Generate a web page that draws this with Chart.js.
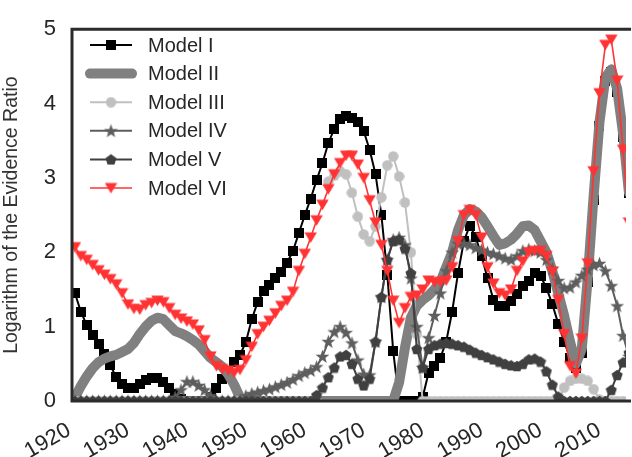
<!DOCTYPE html>
<html>
<head>
<meta charset="utf-8">
<script src="https://cdn.jsdelivr.net/npm/chart.js@4.4.0/dist/chart.umd.min.js"></script>
<style>
  html, body { margin: 0; padding: 0; background: #fff; }
  #myChart { display: block; }
</style>
</head>
<body>
<canvas id="myChart" width="632" height="457"></canvas>
<script>
// one value per year, 1920..2014 (points sit mid-year)
const firstYear = 1920;
const lastYear = 2014;
const tickYears = [1920, 1930, 1940, 1950, 1960, 1970, 1980, 1990, 2000, 2010];
const seriesNames = ["Model I", "Model II", "Model III", "Model IV", "Model V", "Model VI"];

const modelI = [
  1.45, 1.2, 1.02, 0.89, 0.76, 0.63, 0.48, 0.32, 0.23, 0.17,
  0.18, 0.23, 0.28, 0.31, 0.31, 0.26, 0.17, 0.09, 0.03, 0,
  0, 0, 0, 0.05, 0.18, 0.29, 0.41, 0.52, 0.62, 0.79,
  1.1, 1.33, 1.48, 1.56, 1.65, 1.73, 1.86, 2.02, 2.26, 2.5,
  2.72, 2.97, 3.2, 3.47, 3.66, 3.79, 3.83, 3.81, 3.75, 3.63,
  3.38, 3.05, 2.5, 1.7, 0.67, 0, 0, 0, 0, 0.05,
  0.38, 0.47, 0.58, 0.8, 1.2, 1.72, 2.15, 2.36, 2.2, 1.95,
  1.65, 1.36, 1.28, 1.28, 1.35, 1.44, 1.54, 1.62, 1.72, 1.68,
  1.52, 1.3, 1.04, 0.8, 0.58, 0.45, 0.65, 1.6, 2.7, 3.7,
  4.3, 4.42, 4.15, 3.55, 2.8
];
const modelII = [
  0.05, 0.2, 0.33, 0.44, 0.52, 0.57, 0.6, 0.62, 0.66, 0.7,
  0.78, 0.9, 1.0, 1.08, 1.12, 1.1, 1.02, 0.94, 0.91, 0.87,
  0.82, 0.76, 0.67, 0.58, 0.52, 0.46, 0.36, 0.22, 0.05, 0,
  0, 0, 0, 0, 0, 0, 0, 0, 0, 0,
  0, 0, 0, 0, 0, 0, 0, 0, 0, 0,
  0, 0, 0, 0, 0, 0.25, 0.72, 1.12, 1.28, 1.36,
  1.42, 1.5, 1.6, 1.8, 2.0, 2.3, 2.5, 2.58, 2.55, 2.47,
  2.35, 2.22, 2.1, 2.12, 2.17, 2.25, 2.35, 2.36, 2.3, 2.15,
  2.0, 1.75, 1.45, 1.15, 0.8, 0.5, 0.7, 1.65, 2.75, 3.75,
  4.35, 4.46, 4.2, 3.6, 2.8
];
const modelIII = [
  0, 0, 0, 0, 0, 0, 0, 0, 0, 0,
  0, 0, 0, 0, 0, 0, 0, 0, 0, 0,
  0, 0, 0, 0, 0, 0, 0, 0, 0, 0,
  0, 0, 0, 0, 0, 0, 0, 0, 0, 0,
  0, 0, null, 2.95, 3.03, 3.09, 3.05, 2.8, 2.48, 2.24,
  2.15, 2.35, 2.74, 3.17, 3.29, 3.02, 2.67, 2.0, 0.9, 0,
  0, 0, 0, 0, 0, 0, 0, 0, 0, 0,
  0, 0, 0, 0, 0, 0, 0, 0, 0, 0,
  0, 0, 0, 0.18, 0.27, 0.3, 0.3, 0.27, 0.16, 0.02,
  0, 0, 0, 0, 0
];
const modelIV = [
  0, 0, 0, 0, 0, 0, 0, 0, 0, 0,
  0, 0, 0, 0, 0, 0, 0, 0.05, 0.15, 0.26,
  0.26, 0.21, 0.15, 0.07, 0, 0, 0, 0, 0, 0.07,
  0.1, 0.12, 0.14, 0.16, 0.19, 0.22, 0.25, 0.29, 0.34, 0.38,
  0.41, 0.46, 0.6, 0.8, 0.93, 1.0, 0.92, 0.78, 0.55, 0.36,
  0.35, 0.8, 1.4, 1.9, 2.17, 2.2, 2.1, 1.65, 1.0, 0.45,
  0.85, 1.15, 1.45, 1.75, 2.0, 2.12, 2.12, 2.1, 2.06, 2.03,
  2.0, 1.98, 1.95, 1.92, 1.9, 1.95, 2.02, 2.04, 2.02, 2.0,
  1.9, 1.78, 1.62, 1.52, 1.53, 1.6, 1.69, 1.77, 1.83, 1.85,
  1.75, 1.55, 1.28, 0.88, 0.6
];
const modelV = [
  0, 0, 0, 0, 0, 0, 0, 0, 0, 0,
  0, 0, 0, 0, 0, 0, 0, 0, 0, 0,
  0, 0, 0, 0, 0, 0, 0, 0, 0, 0,
  0, 0, 0, 0, 0, 0, 0, 0, 0, 0,
  0, 0.08, 0.18, 0.32, 0.45, 0.6, 0.62, 0.5, 0.3, 0.21,
  0.3, 0.8, 1.4, 1.9, 2.15, 2.17, 2.05, 1.72, 0.7, 0.45,
  0.7, 0.75, 0.77, 0.78, 0.77, 0.75, 0.73, 0.69, 0.65, 0.62,
  0.59, 0.56, 0.53, 0.5, 0.48, 0.47, 0.5, 0.56, 0.57, 0.53,
  0.4, 0.22, 0.06, 0, 0, 0, 0, 0, 0, 0,
  0, 0.15, 0.35, 0.52, 0.65
];
const modelVI = [
  2.07, 1.95, 1.9, 1.83, 1.76, 1.7, 1.64, 1.57, 1.45, 1.3,
  1.24, 1.23, 1.29, 1.32, 1.35, 1.33, 1.25, 1.16, 1.11, 1.07,
  1.03, 0.95, 0.82, 0.6, 0.47, 0.43, 0.41, 0.38, 0.42, 0.55,
  0.73, 0.9, 1.0, 1.08, 1.18, 1.28, 1.35, 1.47, 1.75, 1.98,
  2.2, 2.43, 2.64, 2.85, 3.05, 3.2, 3.3, 3.3, 3.18, 3.0,
  2.7, 2.4, 2.1, 1.75, 1.35, 1.05, 1.25, 1.4, 1.42, 1.5,
  1.62, 1.6, 1.6, 1.62, 1.8, 2.15, 2.5, 2.57, 2.5, 2.2,
  1.8, 1.58, 1.45, 1.42, 1.5, 1.75, 1.88, 2.0, 2.02, 2.02,
  1.95, 1.74, 1.36, 0.9, 0.47, 0.37, 0.84, 1.85, 3.09, 4.14,
  4.79, 4.86, 4.31, 3.38, 2.4
];

const years = [];
for (let y = firstYear; y <= lastYear; y++) years.push(y);

function toPoints(values) {
  return values.map((v, i) => ({ x: years[i] + 0.5, y: v }));
}

// small canvases used as point markers
function marker(size, color, draw) {
  let c = document.createElement("canvas");
  c.width = size;
  c.height = size;
  let g = c.getContext("2d");
  g.fillStyle = color;
  g.beginPath();
  draw(g, size / 2);
  g.closePath();
  g.fill();
  return c;
}
function polygon(g, cx, cy, radii, n, start) {
  for (let k = 0; k < n; k++) {
    let a = start + (k * 2 * Math.PI) / n;
    let r = radii[k % radii.length];
    let px = cx + r * Math.cos(a), py = cy + r * Math.sin(a);
    if (k === 0) g.moveTo(px, py); else g.lineTo(px, py);
  }
}

const red = "#ff3333";
const squareMk = marker(10, "#000000", (g, r) => g.rect(0, 0, 10, 10));
const circleMk = marker(11, "#c0c0c0", (g, r) => g.arc(r, r, 5.2, 0, Math.PI * 2));
const starMk = marker(15, "#5e5e5e", (g, r) => polygon(g, r, r + 0.6, [7.3, 3.0], 10, -Math.PI / 2));
const pentMk = marker(12, "#404040", (g, r) => polygon(g, r, r + 0.5, [5.8], 5, -Math.PI / 2));
const triMk = marker(13, red, (g, r) => { g.moveTo(0.3, 1.5); g.lineTo(12.7, 1.5); g.lineTo(6.5, 12); });

const fontFamily = "'Liberation Sans', Arial, sans-serif";
let myChart = document.getElementById("myChart").getContext("2d");

const frameAndLegend = {
  id: "frameAndLegend",
  afterDatasetsDraw(chart) {
    const ctx = chart.ctx;
    const a = chart.chartArea;
    ctx.save();
    ctx.strokeStyle = "#2b2b2b";
    ctx.lineWidth = 3;
    ctx.beginPath();
    ctx.moveTo(a.right + 5, a.top);
    ctx.lineTo(a.left, a.top);
    ctx.lineTo(a.left, a.bottom);
    ctx.lineTo(a.right + 5, a.bottom);
    ctx.stroke();

    // rotated year labels, right end under each tick
    const xs = chart.scales.x;
    ctx.fillStyle = "#262626";
    ctx.font = "22px " + fontFamily;
    ctx.textAlign = "right";
    ctx.textBaseline = "alphabetic";
    tickYears.forEach((t) => {
      ctx.save();
      ctx.translate(xs.getPixelForValue(t), a.bottom + 33);
      ctx.rotate((-30 * Math.PI) / 180);
      ctx.fillText(String(t), 0, 0);
      ctx.restore();
    });

    chart.data.datasets.forEach((ds, i) => {
      let y = 45 + i * 28.6;
      ctx.strokeStyle = ds.borderColor;
      ctx.lineWidth = ds.borderWidth;
      ctx.lineCap = ds.borderCapStyle || "butt";
      ctx.beginPath();
      ctx.moveTo(90, y);
      ctx.lineTo(132, y);
      ctx.stroke();
      if (ds.pointStyle) {
        let m = ds.pointStyle;
        ctx.drawImage(m, 111 - m.width / 2, y - m.height / 2);
      }
      ctx.fillStyle = "#262626";
      ctx.font = "20px " + fontFamily;
      ctx.textBaseline = "middle";
      ctx.textAlign = "left";
      ctx.fillText(ds.label, 148, y + 1);
    });
    ctx.restore();
  },
};

let salesChart = new Chart(myChart, {
  type: "line",
  data: {
    datasets: [
      {
        label: seriesNames[0],
        data: toPoints(modelI),
        borderColor: "#000000",
        borderWidth: 2,
        pointStyle: squareMk,
        order: 6,
      },
      {
        label: seriesNames[1],
        data: toPoints(modelII),
        borderColor: "#808080",
        borderWidth: 10,
        borderCapStyle: "round",
        borderJoinStyle: "round",
        pointStyle: false,
        pointRadius: 0,
        order: 5,
      },
      {
        label: seriesNames[2],
        data: toPoints(modelIII),
        borderColor: "#c0c0c0",
        borderWidth: 2,
        pointStyle: circleMk,
        order: 4,
      },
      {
        label: seriesNames[3],
        data: toPoints(modelIV),
        borderColor: "#5e5e5e",
        borderWidth: 2,
        pointStyle: starMk,
        order: 3,
      },
      {
        label: seriesNames[4],
        data: toPoints(modelV),
        borderColor: "#404040",
        borderWidth: 2,
        pointStyle: pentMk,
        order: 2,
      },
      {
        label: seriesNames[5],
        data: toPoints(modelVI),
        borderColor: red,
        borderWidth: 1.6,
        pointStyle: triMk,
        order: 1,
      },
    ],
  },
  options: {
    responsive: false,
    animation: false,
    devicePixelRatio: 1,
    layout: { padding: { top: 19, left: 0, right: 0, bottom: 0 } },
    elements: { line: { tension: 0, fill: false } },
    plugins: { legend: { display: false }, tooltip: { enabled: false } },
    scales: {
      x: {
        type: "linear",
        min: firstYear,
        max: lastYear,
        afterFit: (s) => { s.height = 56; },
        afterBuildTicks: (s) => { s.ticks = tickYears.map((v) => ({ value: v })); },
        grid: { display: false, drawTicks: false },
        border: { display: false },
        ticks: { display: false },
      },
      y: {
        min: 0,
        max: 5,
        afterFit: (s) => { s.width = 72; },
        grid: { display: false, drawTicks: false },
        border: { display: false },
        ticks: {
          stepSize: 1,
          padding: 16,
          color: "#262626",
          font: { size: 22, family: fontFamily },
        },
        title: {
          display: true,
          text: "Logarithm of the Evidence Ratio",
          color: "#333333",
          padding: { top: 0, bottom: 0 },
          font: { size: 19.5, family: fontFamily },
        },
      },
    },
  },
  plugins: [frameAndLegend],
});
</script>
</body>
</html>
